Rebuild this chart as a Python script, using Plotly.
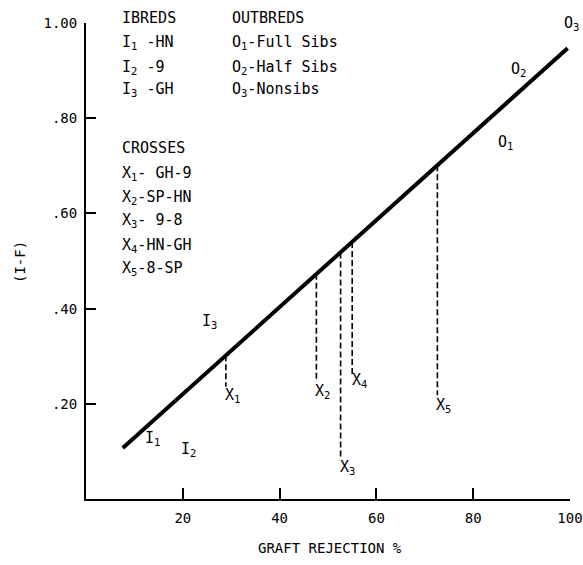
import plotly.graph_objects as go

# ---- data ----
line_x = [7.6, 99.5]
line_y = [0.107, 0.947]

cross_names = ["X1", "X2", "X3", "X4", "X5"]
cross_x = [28.9, 47.6, 52.6, 55.0, 72.6]
cross_top = [0.302, 0.473, 0.518, 0.540, 0.701]
cross_bottom = [0.236, 0.246, 0.089, 0.260, 0.218]

x_ticks = [20, 40, 60, 80, 100]
x_ticktext = ["20", "40", "60", "80", "100"]
y_ticks = [0.2, 0.4, 0.6, 0.8, 1.0]
y_ticktext = [".20", ".40", ".60", ".80", "1.00"]

point_labels = ["I<sub>1</sub>", "I<sub>2</sub>", "I<sub>3</sub>",
                "X<sub>1</sub>", "X<sub>2</sub>", "X<sub>3</sub>", "X<sub>4</sub>", "X<sub>5</sub>",
                "O<sub>1</sub>", "O<sub>2</sub>", "O<sub>3</sub>"]
label_x = [11.8, 19.2, 23.5, 28.3, 46.9, 52.0, 54.5, 72.0, 84.8, 87.3, 98.4]
label_y = [0.128, 0.103, 0.372, 0.218, 0.225, 0.067, 0.248, 0.197, 0.750, 0.903, 1.0]

key_col1 = ["IBREDS", "I<sub>1</sub> -HN", "I<sub>2</sub> -9", "I<sub>3</sub> -GH", "",
            "CROSSES", "X<sub>1</sub>- GH-9", "X<sub>2</sub>-SP-HN", "X<sub>3</sub>- 9-8",
            "X<sub>4</sub>-HN-GH", "X<sub>5</sub>-8-SP"]
key_col2 = ["OUTBREDS", "O<sub>1</sub>-Full Sibs", "O<sub>2</sub>-Half Sibs", "O<sub>3</sub>-Nonsibs"]

# ---- figure ----
FONT = "DejaVu Sans Mono"
W, H = 583, 565
ML, MR, MT, MB = 86, 13, 23, 66
PH = H - MT - MB
PW = W - ML - MR

fig = go.Figure()
fig.add_trace(go.Scatter(x=line_x, y=line_y, mode="lines",
                         line=dict(color="black", width=4), hoverinfo="skip"))
for cx, ct, cb in zip(cross_x, cross_top, cross_bottom):
    fig.add_trace(go.Scatter(x=[cx, cx], y=[ct, cb], mode="lines",
                             line=dict(color="black", width=1.6, dash="6px,3px"),
                             hoverinfo="skip"))

ann = []
for t, x, y in zip(point_labels, label_x, label_y):
    ann.append(dict(x=x, y=y, xref="x", yref="y", text=t, showarrow=False,
                    xanchor="left", yanchor="middle", font=dict(family=FONT, size=15, color="black")))

row_px = [18, 43, 67, 90, 119, 148, 173, 197, 220, 245, 268]
for t, py in zip(key_col1, row_px):
    if t:
        ann.append(dict(x=(120 - ML) / PW, y=1 - (py - MT) / PH, xref="paper", yref="paper",
                        text=t, showarrow=False, xanchor="left", yanchor="middle",
                        font=dict(family=FONT, size=15, color="black")))
for t, py in zip(key_col2, row_px):
    ann.append(dict(x=(230 - ML) / PW, y=1 - (py - MT) / PH, xref="paper", yref="paper",
                    text=t, showarrow=False, xanchor="left", yanchor="middle",
                    font=dict(family=FONT, size=15, color="black")))

ann.append(dict(x=(330 - ML) / PW, y=-(548 - (H - MB)) / PH, xref="paper", yref="paper",
                text="GRAFT REJECTION %", showarrow=False, xanchor="center", yanchor="middle",
                font=dict(family=FONT, size=14, color="black")))
ann.append(dict(x=-(ML - 20) / PW, y=1 - (262 - MT) / PH, xref="paper", yref="paper",
                text="(I-F)", showarrow=False, textangle=-90, xanchor="center", yanchor="middle",
                font=dict(family=FONT, size=14, color="black")))

fig.update_layout(
    width=W, height=H, margin=dict(l=ML, r=MR, t=MT, b=MB, autoexpand=False),
    paper_bgcolor="white", plot_bgcolor="white", showlegend=False,
    annotations=ann,
    xaxis=dict(range=[0, 100], tickvals=x_ticks, ticktext=x_ticktext, showgrid=False, zeroline=False,
               showline=True, linecolor="black", linewidth=2, ticks="inside", ticklen=11, tickwidth=2,
               tickcolor="black", ticklabelstandoff=5, automargin=False,
               tickfont=dict(family=FONT, size=14, color="black")),
    yaxis=dict(range=[0, 1.0], tickvals=y_ticks, ticktext=y_ticktext, showgrid=False, zeroline=False,
               showline=True, linecolor="black", linewidth=2, ticks="inside", ticklen=10, tickwidth=2,
               tickcolor="black", ticklabelstandoff=4, automargin=False,
               tickfont=dict(family=FONT, size=14, color="black")),
)
fig.write_html("out.html")
